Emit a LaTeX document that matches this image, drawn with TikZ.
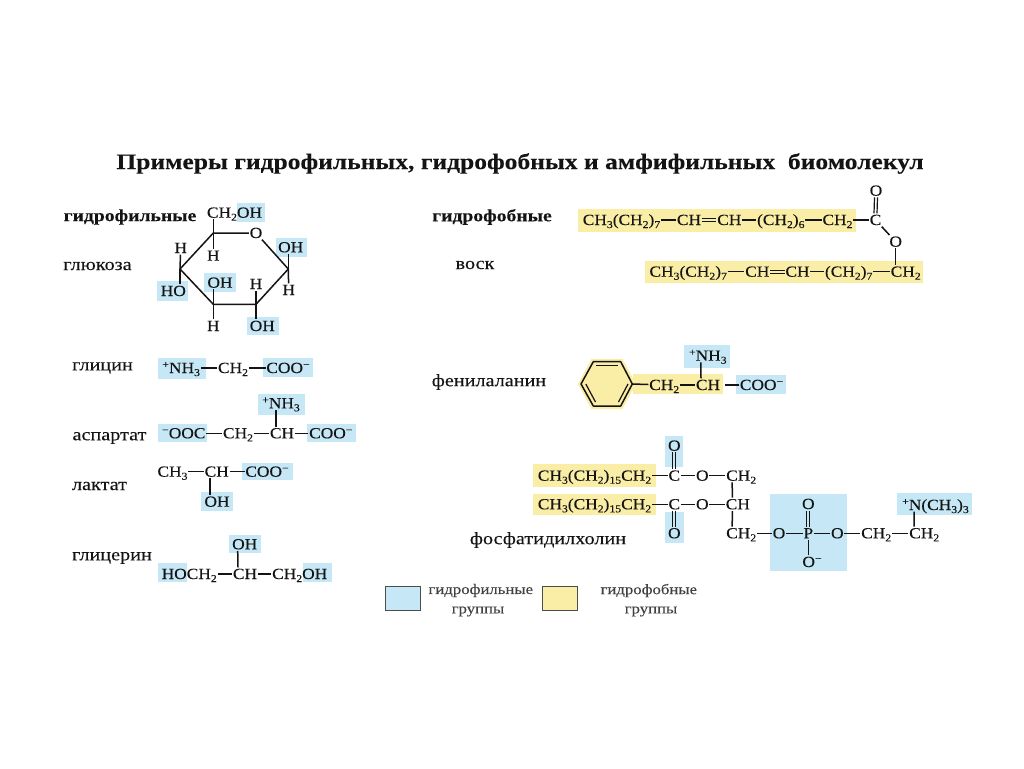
\documentclass[tikz,border=0pt]{standalone}
\usepackage{fontspec}
\setmainfont{Liberation Serif}
\newfontfamily\chemf[FakeStretch=1.12,FakeBold=0.15]{Liberation Serif}
\newfontfamily\labf[FakeStretch=1.155,FakeBold=0.1]{Liberation Serif}
\definecolor{ink}{HTML}{141414}
\definecolor{hb}{HTML}{C6E8F6}
\definecolor{hy}{HTML}{FAEDA6}
\newcommand{\zsub}[1]{\raisebox{-3pt}{\fontsize{10.5}{10}\selectfont #1}}
\newcommand{\zsup}[1]{\raisebox{5pt}{\fontsize{10.5}{10}\selectfont #1}}
\newcommand{\chtwo}{CH\zsub{2}}
\newcommand{\chtre}{CH\zsub{3}}
\newcommand{\plusnh}{\zsup{+}NH\zsub{3}}
\newcommand{\coom}{COO\zsup{−}}
\newcommand{\dvb}[2]{\draw[bond,line width=1.2pt] ([xshift=-1.5pt]#1.north) -- ([xshift=-1.5pt]#2.south);\draw[bond,line width=1.2pt] ([xshift=1.5pt]#1.north) -- ([xshift=1.5pt]#2.south);}
\newcommand{\dhb}[2]{\draw[bond,line width=1.2pt] ([yshift=1.5pt]#1.east) -- ([yshift=1.5pt]#2.west);\draw[bond,line width=1.2pt] ([yshift=-1.5pt]#1.east) -- ([yshift=-1.5pt]#2.west);}
\tikzset{
  fm/.style={font=\chemf\fontsize{15.5}{16}\selectfont,text=ink,text height=10pt,text depth=0pt,inner xsep=0.6pt,inner ysep=1.5pt,anchor=center},
  lab/.style={font=\labf\fontsize{17.5}{18}\selectfont,text=ink,anchor=center,inner sep=0pt,yshift=-2pt},
  blab/.style={font=\labf\bfseries\fontsize{17}{18}\selectfont,text=ink,anchor=center,inner sep=0pt,yshift=-1pt},
  leg/.style={font=\labf\fontsize{14.5}{16}\selectfont,text=black!75,anchor=center,inner sep=0pt,yshift=-1.5pt},
  bond/.style={draw=ink,line width=1.5pt},
  hlb/.style={fill=hb},
  hly/.style={fill=hy},
}
\begin{document}
\begin{tikzpicture}[x=1pt,y=-1pt]
\useasboundingbox (0,0) rectangle (1024,768);
\fill[white] (0,0) rectangle (1024,768);
% highlights
\foreach \a/\b/\c/\d in {236.7/203/265/221.7,157.3/280.7/188.3/300.7,204/273.3/235.7/292.3,247.3/316.7/279.3/335,276/238.3/307.3/256.7,
 157.7/358/205.7/379,263.3/358/313.3/377,158.3/424.3/207.3/441.7,306.7/424/356/441.7,257.7/394.3/305/415,
 241.7/463.3/292.7/480,200.7/492.3/233.3/511,157.7/563.3/186.7/582.3,303.3/563.3/331.7/582.3,229/535/260.7/553.3,
 736/375/786/394.3,684.3/345/730/368.3,665/436/683.3/466.7,665/511.7/684/542.7,770/494/847.3/571,897.3/493.3/971.7/515}
  {\fill[hlb] (\a,\b) rectangle (\c,\d);}
\foreach \a/\b/\c/\d in {578.3/209.3/856/231.7,645/261/923.3/283.3,633/374.3/723.3/394.3,533.3/464.3/655.7/486.7,533.3/494/655.7/515}
  {\fill[hly] (\a,\b) rectangle (\c,\d);}
\fill[hly] (578,384) -- (591.5,359) -- (622.5,359) -- (636,384) -- (622.5,409) -- (591.5,409) -- cycle;

% title and labels
\node[font=\labf\bfseries\fontsize{22.1}{24}\selectfont,text=ink,inner sep=0pt] (title) at (520,163.5) {Примеры гидрофильных, гидрофобных и амфифильных\ \ биомолекул};
\node[blab] (lhyd) at (130,216) {гидрофильные};
\node[blab] (lhyf) at (492,216) {гидрофобные};
\node[lab] (lglu) at (97.5,264) {глюкоза};
\node[lab] (lgly) at (102.5,366) {глицин};
\node[lab] (lasp) at (109.5,436) {аспартат};
\node[lab] (llac) at (99.5,484) {лактат};
\node[lab] (lglc) at (112,556) {глицерин};
\node[lab] (lwax) at (475,263) {воск};
\node[lab] (lphe) at (489,380) {фенилаланин};
\node[lab] (lpc) at (548,538) {фосфатидилхолин};

% glucose
\coordinate (c5) at (213.3,233);
\coordinate (c1) at (288.3,269);
\coordinate (c2) at (256,304.3);
\coordinate (c3) at (213.3,304.3);
\coordinate (c4) at (180,269);
\node[fm] (go) at (256,233) {O};
\node[fm] (gch) at (234.5,212.7) {\chtwo OH};
\node[fm] (gh4) at (180.7,248) {H};
\node[fm] (gho) at (173.3,291) {HO};
\node[fm] (gh5) at (213.3,255.7) {H};
\node[fm] (goh3) at (220,282.7) {OH};
\node[fm] (gh3) at (213.3,326) {H};
\node[fm] (gh2) at (256,284) {H};
\node[fm] (goh2) at (262.3,326) {OH};
\node[fm] (goh1) at (290.7,247.3) {OH};
\node[fm] (gh1) at (288.7,290) {H};
\draw[bond,line join=round] (go) -- (c5) -- (c4) -- (c3) -- (c2) -- (c1) -- (go);
\draw[bond] (c5) -- ([xshift=-21.2pt]gch.south);
\draw[bond] (c5) -- (gh5);
\draw[bond] (c4) -- (gh4);
\draw[bond] (c4) -- ([xshift=6.7pt]gho.north);
\draw[bond] (c3) -- ([xshift=-6.7pt]goh3.south);
\draw[bond] (c3) -- (gh3);
\draw[bond] (c2) -- (gh2);
\draw[bond] (c2) -- ([xshift=-6.3pt]goh2.north);
\draw[bond] (c1) -- ([xshift=-2.4pt]goh1.south);
\draw[bond] (c1) -- (gh1);

% glycine
\node[fm] (a1) at (181.2,368) {\plusnh};
\node[fm] (a2) at (233,368) {\chtwo};
\node[fm] (a3) at (288,368) {\coom};
\draw[bond] (a1) -- (a2);
\draw[bond] (a2) -- (a3);

% aspartate
\node[fm] (b1) at (183.8,433.3) {\zsup{−}OOC};
\node[fm] (b2) at (238,433.3) {\chtwo};
\node[fm] (b3) at (282,433.3) {CH};
\node[fm] (b4) at (330.8,433.3) {\coom};
\node[fm] (b5) at (281,403.3) {\plusnh};
\draw[bond] (b1) -- (b2);
\draw[bond] (b2) -- (b3);
\draw[bond] (b3) -- (b4);
\draw[bond] ([xshift=-6pt]b3.north) -- ([xshift=-5pt]b5.south);

% lactate
\node[fm] (c1n) at (172.5,471.7) {\chtre};
\node[fm] (c2n) at (216.7,471.7) {CH};
\node[fm] (c3n) at (267,471.7) {\coom};
\node[fm] (c4n) at (217,501.7) {OH};
\draw[bond] (c1n) -- (c2n);
\draw[bond] (c2n) -- (c3n);
\draw[bond] ([xshift=-6.7pt]c2n.south) -- ([xshift=-7pt]c4n.north);

% glycerol
\node[fm] (d1) at (189.2,574) {HO\chtwo};
\node[fm] (d2) at (245,574) {CH};
\node[fm] (d3) at (299.7,574) {\chtwo OH};
\node[fm] (d4) at (244.7,544.3) {OH};
\draw[bond] (d1) -- (d2);
\draw[bond] (d2) -- (d3);
\draw[bond] ([xshift=-7pt]d2.north) -- ([xshift=-7pt]d4.south);

% wax
\node[fm] (w1) at (621.5,220) {\chtre(\chtwo)\zsub{7}};
\node[fm] (w2) at (689,220) {CH};
\node[fm] (w3) at (729.3,220) {CH};
\node[fm] (w4) at (780.8,220) {(\chtwo)\zsub{6}};
\node[fm] (w5) at (837.5,220) {\chtwo};
\node[fm] (w6) at (875.5,220) {C};
\node[fm] (w7) at (876,190.7) {O};
\node[fm] (w8) at (895.7,241.7) {O};
\node[fm] (v1) at (688.2,271.7) {\chtre(\chtwo)\zsub{7}};
\node[fm] (v2) at (757.3,271.7) {CH};
\node[fm] (v3) at (797.5,271.7) {CH};
\node[fm] (v4) at (848.7,271.7) {(\chtwo)\zsub{7}};
\node[fm] (v5) at (905.7,271.7) {\chtwo};
\draw[bond] (w1) -- (w2);
\dhb{w2}{w3}
\draw[bond] (w3) -- (w4);
\draw[bond] (w4) -- (w5);
\draw[bond] (w5) -- (w6);
\dvb{w6}{w7}
\draw[bond] (w6) -- (w8);
\draw[bond] (w8) -- ([xshift=-10pt]v5.north);
\draw[bond] (v1) -- (v2);
\dhb{v2}{v3}
\draw[bond] (v3) -- (v4);
\draw[bond] (v4) -- (v5);

% phenylalanine
\coordinate (p1) at (581,384);
\coordinate (p2) at (593.3,361.7);
\coordinate (p3) at (620.7,361.7);
\coordinate (p4) at (632.3,384);
\coordinate (p5) at (620.7,406);
\coordinate (p6) at (593.3,406);
\draw[bond,line join=round] (p1) -- (p2) -- (p3) -- (p4) -- (p5) -- (p6) -- cycle;
\draw[bond,line width=1.2pt] (596,365.5) -- (618,365.5);
\draw[bond,line width=1.2pt] (628,384) -- (618.5,402);
\draw[bond,line width=1.2pt] (595.5,402) -- (585.8,384);
\node[fm] (f1) at (664.2,385) {\chtwo};
\node[fm] (f2) at (708,385) {CH};
\node[fm] (f3) at (761.5,385) {\coom};
\node[fm] (f4) at (707.8,355.7) {\plusnh};
\draw[bond] (p4) -- (f1);
\draw[bond] (f1) -- (f2);
\draw[bond] ([xshift=4pt]f2.east) -- (f3);
\draw[bond] ([xshift=-7pt]f2.north) -- ([xshift=-7pt]f4.south);

% phosphatidylcholine
\node[fm] (r1) at (594.5,475.7) {\chtre(\chtwo)\zsub{15}\chtwo};
\node[fm] (r2) at (674.3,475.7) {C};
\node[fm] (r3) at (702.3,475.7) {O};
\node[fm] (r4) at (741.2,475.7) {\chtwo};
\node[fm] (r5) at (674.3,445.7) {O};
\node[fm] (s1) at (594.5,504.3) {\chtre(\chtwo)\zsub{15}\chtwo};
\node[fm] (s2) at (674.3,504.3) {C};
\node[fm] (s3) at (702.3,504.3) {O};
\node[fm] (s4) at (737.8,504.3) {CH};
\node[fm] (s5) at (674.3,533.3) {O};
\node[fm] (t1) at (741.2,533.3) {\chtwo};
\node[fm] (t2) at (779,533.3) {O};
\node[fm] (t3) at (808.3,533.3) {P};
\node[fm] (t4) at (837.3,533.3) {O};
\node[fm] (t5) at (876.2,533.3) {\chtwo};
\node[fm] (t6) at (924.2,533.3) {\chtwo};
\node[fm] (t7) at (808.3,504) {O};
\node[fm] (t8) at (812,562) {O\zsup{−}};
\node[fm] (t9) at (935.5,505) {\zsup{+}N(\chtre)\zsub{3}};
\draw[bond] (r1) -- (r2);
\draw[bond] (r2) -- (r3);
\draw[bond] (r3) -- (r4);
\dvb{r2}{r5}
\draw[bond] (s1) -- (s2);
\draw[bond] (s2) -- (s3);
\draw[bond] (s3) -- (s4);
\draw[bond,line width=1.2pt] ([xshift=-1.5pt]s2.south) -- ([xshift=-1.5pt]s5.north);
\draw[bond,line width=1.2pt] ([xshift=1.5pt]s2.south) -- ([xshift=1.5pt]s5.north);
\draw[bond] ([xshift=-9pt]r4.south) -- ([xshift=-5.5pt]s4.north);
\draw[bond] ([xshift=-5.5pt]s4.south) -- ([xshift=-9pt]t1.north);
\draw[bond] (t1) -- (t2);
\draw[bond] (t2) -- (t3);
\draw[bond] (t3) -- (t4);
\draw[bond] (t4) -- (t5);
\draw[bond] (t5) -- (t6);
\dvb{t3}{t7}
\draw[bond] (t3) -- ([xshift=-3.7pt]t8.north);
\draw[bond] ([xshift=-10pt]t6.north) -- ([xshift=-21.5pt]t9.south);

% legend
\filldraw[fill=hb,draw=black!70,line width=1pt] (385,586) rectangle (420.7,610);
\filldraw[fill=hy,draw=black!70,line width=1pt] (542.3,586) rectangle (577.7,610);
\node[leg] (l1) at (480.8,589) {гидрофильные};
\node[leg] (l2) at (478,610) {группы};
\node[leg] (l3) at (648.8,589) {гидрофобные};
\node[leg] (l4) at (651,610) {группы};
\end{tikzpicture}
\end{document}
